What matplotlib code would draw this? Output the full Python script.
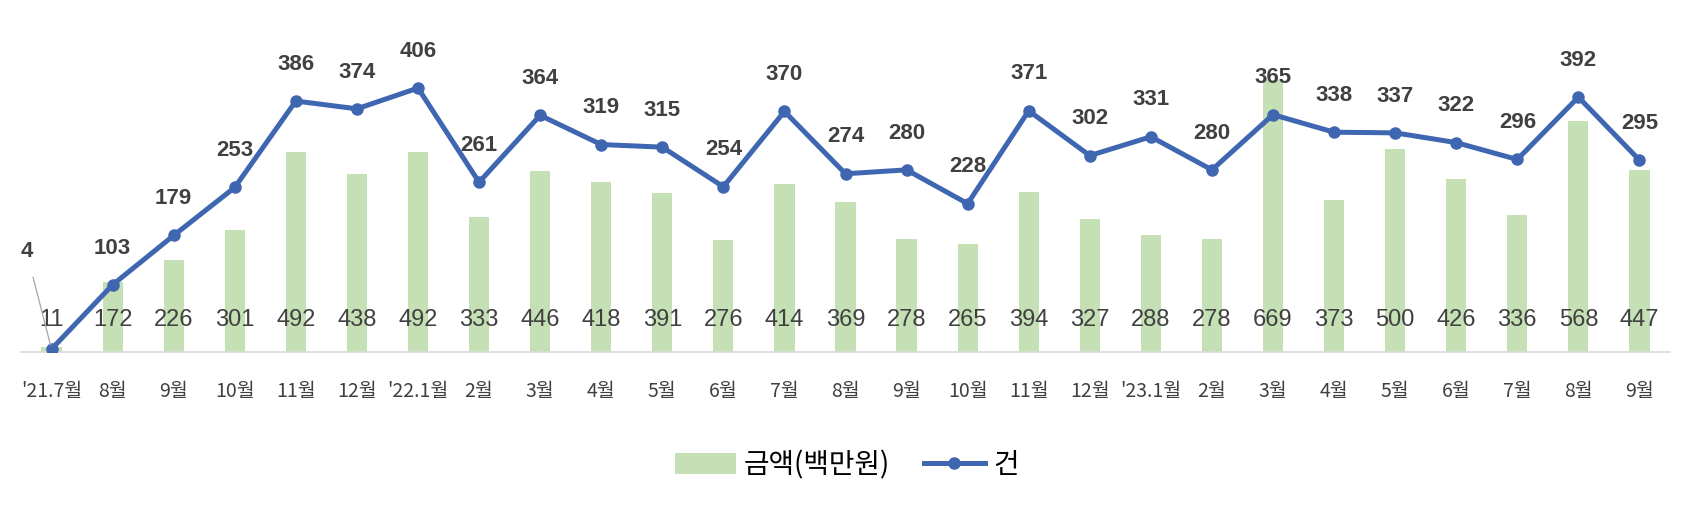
import matplotlib
matplotlib.use('Agg')
import matplotlib.pyplot as plt
from matplotlib.lines import Line2D
from matplotlib.patches import Patch
import numpy as np

months = ["'21.7월", '8월', '9월', '10월', '11월', '12월', "'22.1월", '2월', '3월', '4월',
          '5월', '6월', '7월', '8월', '9월', '10월', '11월', '12월', "'23.1월", '2월',
          '3월', '4월', '5월', '6월', '7월', '8월', '9월']
amount = [11, 172, 226, 301, 492, 438, 492, 333, 446, 418, 391, 276, 414, 369, 278,
          265, 394, 327, 288, 278, 669, 373, 500, 426, 336, 568, 447]
count = [4, 103, 179, 253, 386, 374, 406, 261, 364, 319, 315, 254, 370, 274, 280,
         228, 371, 302, 331, 280, 365, 338, 337, 322, 296, 392, 295]

BAR_C = '#C5E0B4'
LINE_C = '#3F66B0'
TXT_C = '#404040'
KR = ['Noto Sans CJK KR', 'DejaVu Sans']
NUM = ['Liberation Sans Narrow', 'Liberation Sans', 'DejaVu Sans']

fig = plt.figure(figsize=(16.93, 5.11), dpi=100)
ax = fig.add_axes([21 / 1693, 159.3 / 511, 1649 / 1693, 324.7 / 511])
x = np.arange(len(months))

ax.bar(x, amount, width=0.33, color=BAR_C, zorder=1)
ax.set_ylim(0, 800)
ax.set_xlim(-0.5, len(months) - 0.5)
for s in ['top', 'right', 'left']:
    ax.spines[s].set_visible(False)
ax.spines['bottom'].set_color('#D9D9D9')
ax.spines['bottom'].set_linewidth(1.2)
ax.set_yticks([])
ax.set_xticks(x)
ax.set_xticklabels(months, family=KR, fontsize=14, color=TXT_C)
ax.tick_params(axis='x', length=0, pad=21)

for i, v in enumerate(amount):
    ax.annotate(str(v), (i, 0), xytext=(0, 23), textcoords='offset points',
                ha='center', va='center', fontsize=17, family=NUM, color=TXT_C)

ax2 = ax.twinx()
ax2.plot(x, count, '-o', color=LINE_C, lw=3.6, markersize=8, zorder=3)
ax2.set_ylim(0, 500)
ax2.set_yticks([])
for s in ['top', 'right', 'left', 'bottom']:
    ax2.spines[s].set_visible(False)

for i, v in enumerate(count):
    if i == 0:
        ax2.annotate(str(v), (i, v), xytext=(-18, 70), textcoords='offset points',
                     ha='center', va='center', fontsize=16, fontweight='bold',
                     family=NUM, color=TXT_C,
                     arrowprops=dict(arrowstyle='-', color='#A6A6A6', lw=0.9,
                                     shrinkA=9, shrinkB=3))
    else:
        ax2.annotate(str(v), (i, v), xytext=(0, 26.5), textcoords='offset points',
                     ha='center', va='center', fontsize=16, fontweight='bold',
                     family=NUM, color=TXT_C)

handles = [Patch(facecolor=BAR_C, edgecolor='none'),
           Line2D([0], [0], color=LINE_C, lw=3.6, marker='o', markersize=8)]
fig.legend(handles, ['금액(백만원)', '건'], loc='center', bbox_to_anchor=(0.5, 46 / 511),
           ncol=2, frameon=False, prop={'family': KR, 'size': 20}, handlelength=2.2,
           handleheight=0.8, handletextpad=0.3, columnspacing=1.2)

fig.savefig('out.png', dpi=100)
